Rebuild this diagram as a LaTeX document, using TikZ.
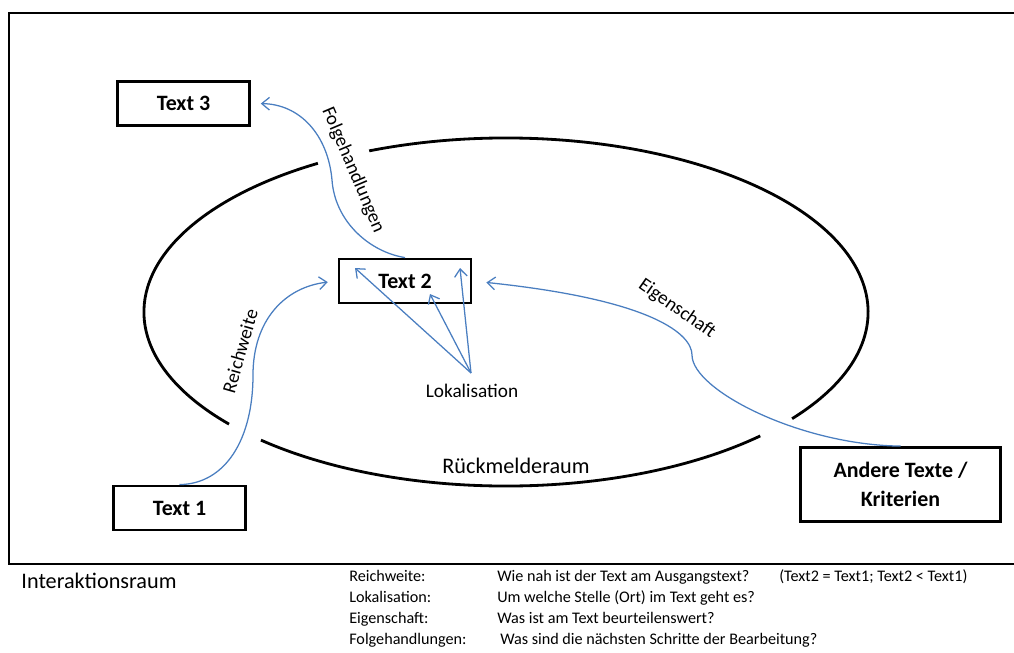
\documentclass[tikz,border=0pt]{standalone}
\usepackage{fontspec}
\setmainfont{Carlito}
\usepackage{tikz}
\usetikzlibrary{arrows.meta,calc}
\definecolor{linkblue}{RGB}{74,126,192}
\tikzset{
  box/.style={draw, line width=2pt, font=\fontsize{15.6}{20.6}\selectfont\bfseries, align=center},
  link/.style={draw=linkblue, line width=0.9pt, -{Straight Barb[length=5.5pt,width=9pt]}},
  raum/.style={line width=2pt},
  lbl/.style={font=\fontsize{13.7}{16}\selectfont},
  legend/.style={font=\fontsize{11.5}{14}\selectfont, anchor=west, inner sep=0pt, text height=1.5ex, text depth=.25ex},
}

\begin{document}
\begin{tikzpicture}[x=0.025cm, y=-0.025cm]
  \useasboundingbox (0,0) rectangle (1014,652);

  % Interaktionsraum
  \draw[line width=1.8pt] (1014,13) -- (9,13) -- (9,564) -- (1014,564);
  \node[font=\fontsize{15.8}{18}\selectfont] (iraum) at (99,581) {Interaktionsraum};

  % Rueckmelderaum: ellipse with three gaps
  \coordinate (c) at (506,312);
  \draw[raum] (c) ++(121.3:9.05cm and 4.35cm) arc[start angle=121.3, end angle=220.1, x radius=9.05cm, y radius=4.35cm];
  \draw[raum] (c) ++(227.4:9.05cm and 4.35cm) arc[start angle=227.4, end angle=314.6, x radius=9.05cm, y radius=4.35cm];
  \draw[raum] (c) ++(322.2:9.05cm and 4.35cm) arc[start angle=322.2, end angle=472.2, x radius=9.05cm, y radius=4.35cm];
  \node[font=\fontsize{15.8}{18}\selectfont] (rraum) at (516,466) {Rückmelderaum};

  % Texte
  \node[box, minimum width=3.3cm, minimum height=1.1cm] (t3) at (183.5,103.5) {Text 3};
  \node[box, minimum width=3.3cm, minimum height=1.1cm] (t2) at (405,281) {Text 2};
  \node[box, minimum width=3.3cm, minimum height=1.1cm] (t1) at (179.5,508) {Text 1};
  \node[box, minimum width=5cm, minimum height=1.85cm] (andere) at (900.5,484.5) {Andere Texte /\\Kriterien};

  % Folgehandlungen
  \draw[link, shorten >=7pt] (t2.north) .. controls (370,252) and (335,222) .. (332,180)
    .. controls (328,135) and (300,104) .. (t3.east);
  \node[lbl, rotate=-67] (folg) at (353,170) {Folgehandlungen};

  % Reichweite
  \draw[link, shorten >=7pt] (t1.north) .. controls (225,484) and (253,440) .. (253,375)
    .. controls (253,320) and (285,287) .. (t2.west);
  \node[lbl, rotate=74] (reich) at (240,351) {Reichweite};

  % Eigenschaft
  \draw[link, shorten >=10pt] (andere.north) .. controls (800,445) and (692,390) .. (692,355)
    .. controls (692,335) and (655,300) .. (t2.east);
  \node[lbl, rotate=-35] (eigen) at (677,309) {Eigenschaft};

  % Lokalisation
  \node[lbl] (lok) at (472,391) {Lokalisation};
  \coordinate (lokpt) at (471,373);
  \coordinate (loc1) at (355,268);
  \coordinate (loc2) at (430,294);
  \coordinate (loc3) at (460,268);
  \draw[link] (lokpt) -- (loc1);
  \draw[link] (lokpt) -- (loc2);
  \draw[link] (lokpt) -- (loc3);

  % Legende
  \node[legend] (lg1) at (349,577) {Reichweite:};
  \node[legend] (lg1t) at (497,577) {Wie nah ist der Text am Ausgangstext?};
  \node[legend] (lg1x) at (779,577) {(Text2 = Text1; Text2 < Text1)};
  \node[legend] (lg2) at (349,598) {Lokalisation:};
  \node[legend] (lg2t) at (497,598) {Um welche Stelle (Ort) im Text geht es?};
  \node[legend] (lg3) at (349,619) {Eigenschaft:};
  \node[legend] (lg3t) at (497,619) {Was ist am Text beurteilenswert?};
  \node[legend] (lg4) at (349,640) {Folgehandlungen:};
  \node[legend] (lg4t) at (500,640) {Was sind die nächsten Schritte der Bearbeitung?};
\end{tikzpicture}
\end{document}
